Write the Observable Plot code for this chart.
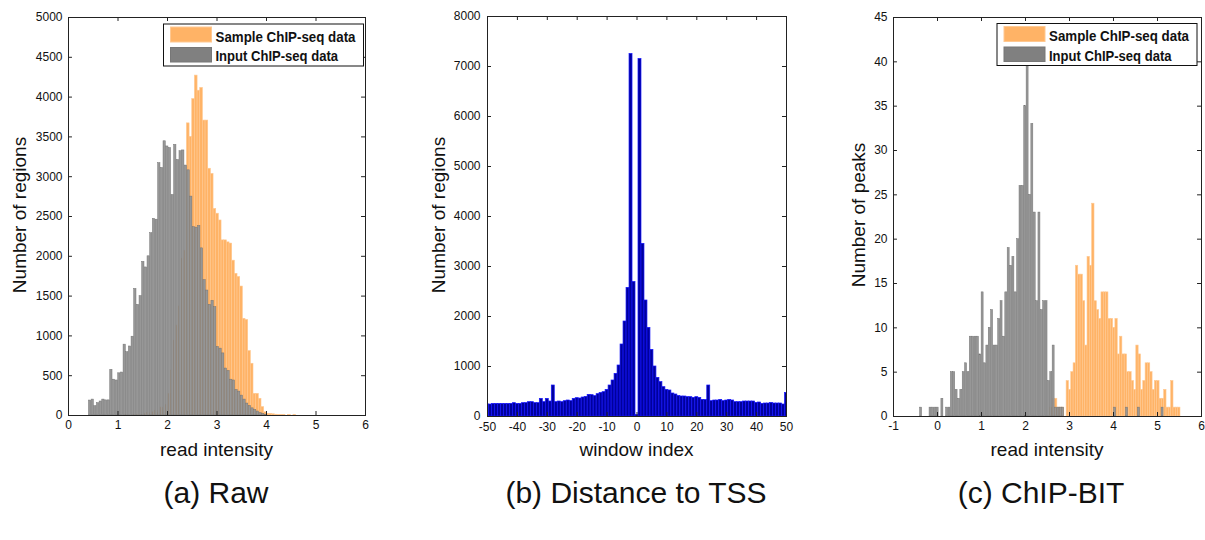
<!DOCTYPE html>
<html><head><meta charset="utf-8">
<script src="https://cdn.jsdelivr.net/npm/d3@7"></script>
<script src="https://cdn.jsdelivr.net/npm/@observablehq/plot@0.6"></script>
<style>
body{margin:0;background:#fff;}
#page{position:relative;width:1205px;height:540px;overflow:hidden;background:#fff;font-family:"Liberation Sans",Arial,sans-serif;}
.panel{position:absolute;top:0;}
.lbl{position:absolute;font-size:19px;line-height:19px;color:#111;white-space:nowrap;transform:translate(-50%,-50%);}
.ylbl{position:absolute;font-size:19px;line-height:19px;color:#111;white-space:nowrap;transform:translate(-50%,-50%) rotate(-90deg);}
.cap{position:absolute;font-size:30px;line-height:30px;color:#111;white-space:nowrap;transform:translate(-50%,-50%);}
#overlay{position:absolute;left:0;top:0;pointer-events:none;}
</style></head><body><div id="page"></div>
<script>
// ---------- Panel (a) Raw: read intensity histograms ----------
const rawInputStart = 0.409, rawInputWidth = 0.0538;
const rawInputCounts = [188,200,117,155,176,200,190,190,574,450,440,530,540,890,795,867,990,1590,1390,1500,1930,1860,2000,2290,2470,2460,3170,3110,3445,3380,3360,2770,3400,3210,3320,3330,3140,3080,2750,2365,2360,2380,2100,1700,1570,1390,1440,1360,860,840,780,590,560,450,440,320,300,250,200,150,120,90,70,50,30,20,10];
const rawSampleStart = 1.155, rawSampleWidth = 0.0538;
const rawSampleCounts = [10,0,0,5,10,0,5,20,30,15,40,60,30,100,80,130,272,565,940,1130,1370,1970,2070,3670,3500,3975,4270,4080,4115,3705,3705,3100,3035,2595,2535,2450,2200,2200,2175,2160,1945,1780,1740,1620,1215,1200,810,650,272,272,210,105,40,20,20,15,10,5,5,5,0,5,0,5];
const rawXTicks = [0,1,2,3,4,5,6];
const rawYTicks = [0,500,1000,1500,2000,2500,3000,3500,4000,4500,5000];

// ---------- Panel (b) Distance to TSS ----------
const tssWindows = d3.range(-50, 51);
const tssCounts = [240,240,253,253,253,253,253,253,253,267,253,253,267,267,287,287,267,267,353,287,353,300,620,287,300,287,307,320,307,353,367,360,380,393,433,427,407,447,470,487,533,620,720,853,1020,1440,1900,2573,7250,2690,30,7150,3453,2320,1773,1333,1000,773,687,587,533,520,460,440,410,400,400,387,387,373,387,373,333,330,620,307,320,320,333,307,320,333,320,287,287,287,300,300,300,300,273,280,253,260,260,273,260,260,260,240,473];
const tssXTicks = [-50,-40,-30,-20,-10,0,10,20,30,40,50];
const tssYTicks = [0,1000,2000,3000,4000,5000,6000,7000,8000];

// ---------- Panel (c) ChIP-BIT ----------
const bitInputStart = -0.40, bitInputWidth = 0.0538;
const bitInputCounts = [1,0,0,0,1,1,1,1,0,2,0,1,1,5,5,3,2,3,5,6,5,9,9,9,9,7,14,6,8,10,12,8,8,11,13,9,14,19,17,18,14,20,26,26,35,40,25,33,23,13,23,12,13,13,4,5,8,1,1,1,1,0,0,0,0,0,0,0,0,0,0,0,0,0,0,0,0,0,0,0,0,0,1,0,0,0,0,1,0,0,0,0,1,0,0,0,0,0,0,0,0,0,1];
const bitSampleStart = 2.565, bitSampleWidth = 0.0528;
const bitSampleCounts = [1,2,2,1,1,1,0,4,3,5,6,17,16,16,13,8,18,17,24,13,12,11,14,14,14,11,11,10,11,7,9,7,7,5,5,4,3,8,7,3,4,6,6,5,3,4,4,2,2,3,1,1,4,1,1,1];
const bitXTicks = [-1,0,1,2,3,4,5,6];
const bitYTicks = [0,5,10,15,20,25,30,35,40,45];

const legendLabels = ["Sample ChIP-seq data", "Input ChIP-seq data"];
const captions = ["(a) Raw", "(b) Distance to TSS", "(c) ChIP-BIT"];

const ORANGE = "#ffb366", ORANGE_EDGE = "#ffc891";
const GRAY = "#979797", GRAY_EDGE = "#747474";
const FONT = "'Liberation Sans', Arial, sans-serif";

function bins(start, width, counts) {
  return counts.map((c, i) => ({x1: start + i * width, x2: start + (i + 1) * width, y: c}));
}
const fmt = d => String(d);

function histPanel({xDomain, yDomain, xTicks, yTicks, sample, input, tx, ty, width, height, ml, mr, mt, mb}) {
  return Plot.plot({
    width, height, marginLeft: ml, marginRight: mr, marginTop: mt, marginBottom: mb,
    x: {domain: xDomain}, y: {domain: yDomain},
    style: {fontFamily: FONT, fontSize: "12px", color: "#111", background: "transparent", overflow: "visible"},
    marks: [
      Plot.rectY(sample, {x1: "x1", x2: "x2", y: "y", fill: ORANGE, stroke: ORANGE_EDGE, strokeWidth: 0.6, clip: true}),
      Plot.rectY(input, {x1: "x1", x2: "x2", y: "y", fill: GRAY, stroke: GRAY_EDGE, strokeWidth: 0.5, insetLeft: 0.2, insetRight: 0.2, clip: true}),
      Plot.frame({stroke: "#222", strokeWidth: 1}),
      Plot.ruleX(xTicks, {y1: yDomain[0], y2: yDomain[0] + ty, stroke: "#222"}),
      Plot.ruleX(xTicks, {y1: yDomain[1] - ty, y2: yDomain[1], stroke: "#222"}),
      Plot.ruleY(yTicks, {x1: xDomain[0], x2: xDomain[0] + tx, stroke: "#222"}),
      Plot.ruleY(yTicks, {x1: xDomain[1] - tx, x2: xDomain[1], stroke: "#222"}),
      Plot.axisX({ticks: xTicks, tickSize: 0, tickPadding: 5, anchor: "bottom", label: null, tickFormat: fmt}),
      Plot.axisY({ticks: yTicks, tickSize: 0, tickPadding: 6, anchor: "left", label: null, tickFormat: fmt})
    ]
  });
}

const page = document.getElementById("page");
function place(el, left) { el.classList.add("panel"); el.style.left = left + "px"; page.appendChild(el); }

// Panel (a)
place(histPanel({
  xDomain: [0, 6], yDomain: [0, 5000], xTicks: rawXTicks, yTicks: rawYTicks,
  sample: bins(rawSampleStart, rawSampleWidth, rawSampleCounts),
  input: bins(rawInputStart, rawInputWidth, rawInputCounts),
  tx: 0.08, ty: 50, width: 400, height: 445, ml: 68, mr: 35, mt: 17, mb: 30
}), 0);

// Panel (b)
const tssData = tssWindows.map((w, i) => ({x1: w - 0.5, x2: w + 0.5, y: tssCounts[i]}));
place(Plot.plot({
  width: 400, height: 445, marginLeft: 67, marginRight: 34, marginTop: 16, marginBottom: 29,
  x: {domain: [-50, 50]}, y: {domain: [0, 8000]},
  style: {fontFamily: FONT, fontSize: "12px", color: "#111", background: "transparent", overflow: "visible"},
  marks: [
    Plot.rectY(tssData, {x1: "x1", x2: "x2", y: "y", fill: "#00009c", stroke: "#1515ff", strokeWidth: 0.7, clip: true}),
    Plot.frame({stroke: "#222", strokeWidth: 1}),
    Plot.ruleX(tssXTicks, {y1: 0, y2: 80, stroke: "#222"}),
    Plot.ruleX(tssXTicks, {y1: 7920, y2: 8000, stroke: "#222"}),
    Plot.ruleY(tssYTicks, {x1: -50, x2: -48.66, stroke: "#222"}),
    Plot.ruleY(tssYTicks, {x1: 48.66, x2: 50, stroke: "#222"}),
    Plot.axisX({ticks: tssXTicks, tickSize: 0, tickPadding: 6, anchor: "bottom", label: null, tickFormat: fmt}),
    Plot.axisY({ticks: tssYTicks, tickSize: 0, tickPadding: 7, anchor: "left", label: null, tickFormat: fmt})
  ]
}), 420);

// Panel (c)
place(histPanel({
  xDomain: [-1, 6], yDomain: [0, 45], xTicks: bitXTicks, yTicks: bitYTicks,
  sample: bins(bitSampleStart, bitSampleWidth, bitSampleCounts),
  input: bins(bitInputStart, bitInputWidth, bitInputCounts),
  tx: 0.09, ty: 0.45, width: 375, height: 445, ml: 63, mr: 4, mt: 17, mb: 29
}), 830);

// Axis labels and captions
function addDiv(cls, text, x, y) {
  const d = document.createElement("div");
  d.className = cls; d.textContent = text;
  d.style.left = x + "px"; d.style.top = y + "px";
  page.appendChild(d);
}
addDiv("lbl", "read intensity", 216.5, 449);
addDiv("lbl", "window index", 636.5, 449);
addDiv("lbl", "read intensity", 1047, 449);
addDiv("ylbl", "Number of regions", 19, 215);
addDiv("ylbl", "Number of regions", 438, 215);
addDiv("ylbl", "Number of peaks", 858, 215);
addDiv("cap", captions[0], 216, 493);
addDiv("cap", captions[1], 636, 493);
addDiv("cap", captions[2], 1041, 493);

// Legends
const NS = "http://www.w3.org/2000/svg";
const ov = document.createElementNS(NS, "svg");
ov.setAttribute("id", "overlay"); ov.setAttribute("width", 1205); ov.setAttribute("height", 540);
page.appendChild(ov);
function el(tag, attrs, text) {
  const e = document.createElementNS(NS, tag);
  for (const k in attrs) e.setAttribute(k, attrs[k]);
  if (text) e.textContent = text;
  ov.appendChild(e); return e;
}
function legend(x0, y0, w) {
  el("rect", {x: x0 + 0.5, y: y0 + 0.5, width: w, height: 42, fill: "#fff", stroke: "#111", "stroke-width": 1});
  el("rect", {x: x0 + 7.5, y: y0 + 3.5, width: 41, height: 15, fill: ORANGE, stroke: ORANGE_EDGE});
  el("rect", {x: x0 + 7.5, y: y0 + 24, width: 41, height: 14.5, fill: "#808080", stroke: "#777"});
  el("text", {x: x0 + 52.5, y: y0 + 18.3, "font-family": FONT, "font-size": 14.5, "font-weight": "bold", fill: "#111", textLength: 140, lengthAdjust: "spacingAndGlyphs"}, legendLabels[0]);
  el("text", {x: x0 + 52.5, y: y0 + 37.5, "font-family": FONT, "font-size": 14.5, "font-weight": "bold", fill: "#111", textLength: 122.5, lengthAdjust: "spacingAndGlyphs"}, legendLabels[1]);
}
legend(163, 23.5, 200);
legend(996.5, 23, 200);
</script>
</body></html>
